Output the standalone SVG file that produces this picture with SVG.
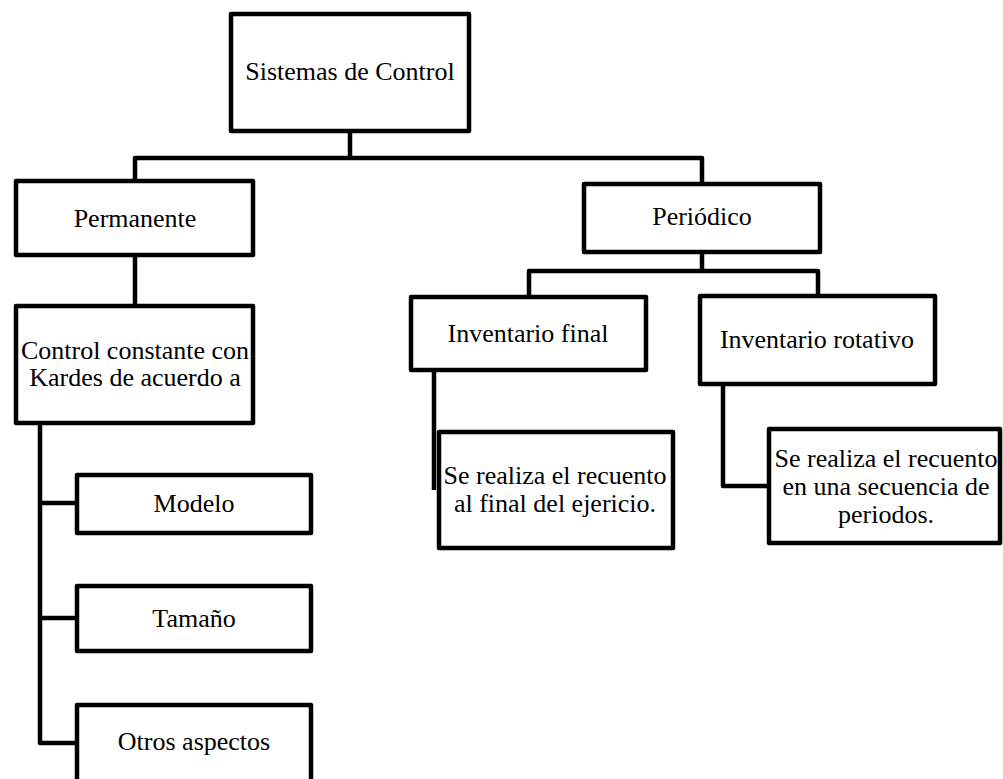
<svg xmlns="http://www.w3.org/2000/svg" width="1003" height="779" viewBox="0 0 1003 779">
<style>
.box{fill:#fff;stroke:#000;stroke-width:4.5;stroke-linejoin:round}
.ln{fill:none;stroke:#000;stroke-width:4.5;stroke-linejoin:round}
text{font-family:"Liberation Serif","Times New Roman",serif;font-size:26px;fill:#000;text-anchor:middle}
</style>
<rect width="1003" height="779" fill="#fff"/>
<g id="connectors">
<path class="ln" d="M350 131 V158 M135 181 V158 H702 V184"/>
<path class="ln" d="M135 255 V306"/>
<path class="ln" d="M40 423 V743 H77 M40 503 H77 M40 618 H77"/>
<path class="ln" d="M702 252 V271 M529 297 V271 H818 V296"/>
<path class="ln" d="M434 370 V490"/>
<path class="ln" d="M723 384 V486 H769"/>
</g>
<g id="sistemas"><rect class="box" x="231" y="14" width="238" height="117"/><text x="350" y="80">Sistemas de Control</text></g>
<g id="permanente"><rect class="box" x="16" y="181" width="237" height="74"/><text x="135" y="227">Permanente</text></g>
<g id="control"><rect class="box" x="16" y="306" width="237" height="117"/><text x="135" y="359">Control constante con</text><text x="135" y="386">Kardes de acuerdo a</text></g>
<g id="modelo"><rect class="box" x="77" y="475" width="234" height="58"/><text x="194" y="512">Modelo</text></g>
<g id="tamano"><rect class="box" x="77" y="586" width="234" height="65"/><text x="194" y="627">Tamaño</text></g>
<g id="otros"><rect class="box" x="77" y="705" width="234" height="100"/><text x="194" y="750">Otros aspectos</text></g>
<g id="periodico"><rect class="box" x="584" y="184" width="236" height="68"/><text x="702" y="225">Periódico</text></g>
<g id="inv-final"><rect class="box" x="411" y="297" width="235" height="73"/><text x="528" y="342">Inventario final</text></g>
<g id="inv-rotativo"><rect class="box" x="700" y="296" width="235" height="88"/><text x="817" y="348">Inventario rotativo</text></g>
<g id="sub-final"><rect class="box" x="439" y="432" width="234" height="116"/><text x="555" y="484">Se realiza el recuento</text><text x="555" y="512">al final del ejericio.</text></g>
<g id="sub-rotativo"><rect class="box" x="769" y="429" width="231" height="114"/><text x="886" y="467">Se realiza el recuento</text><text x="886" y="495">en una secuencia de</text><text x="886" y="523">periodos.</text></g>
</svg>
